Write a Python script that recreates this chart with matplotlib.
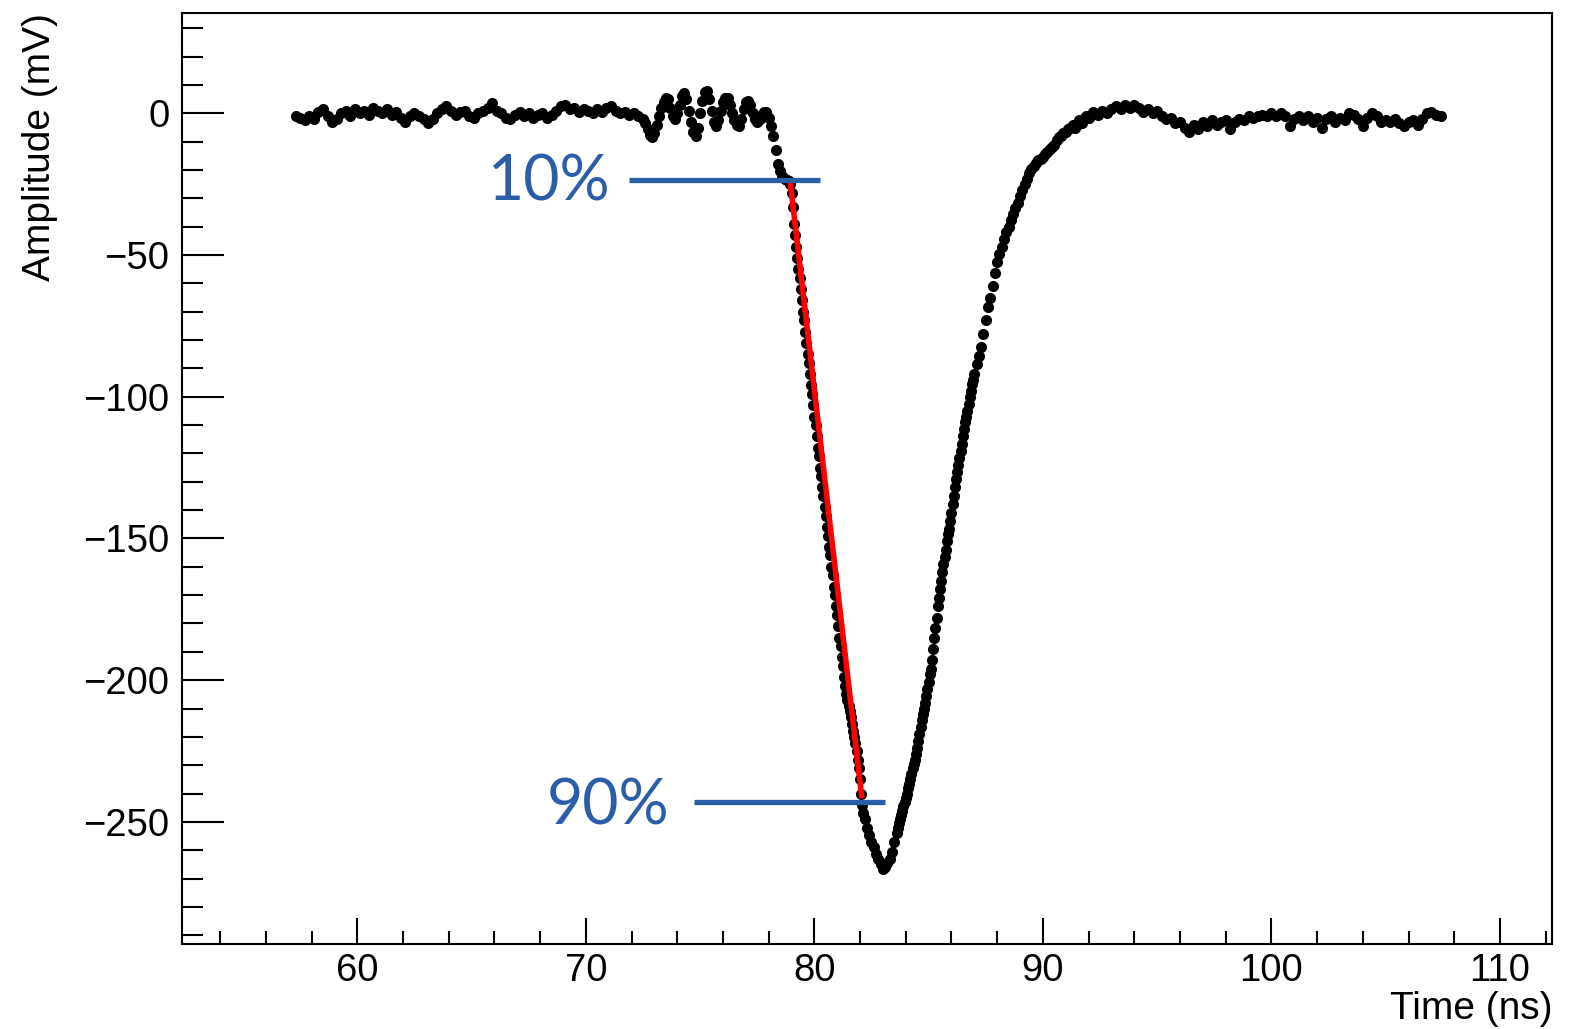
import numpy as np
import matplotlib
matplotlib.use("Agg")
import matplotlib.pyplot as plt
from matplotlib.ticker import MultipleLocator

# ---- waveform samples (time in ns, amplitude in mV) ----
# each segment: start time, sampling step, amplitudes
seg1_t0, seg1_dt = 57.3, 0.2
seg1_v = [-1, -1.5, -2.5, -1, -2, 0.5, 1.5, -1, -3, -2,
          0, 1, -1, 1.5, 0, 1, -0.5, 2, 1, 0,
          1.5, -0.5, 0.5, -1.5, -3, -1, 0, -1, -2, -3.5,
          -2, 0, 1.5, 2.5, 1, -0.5, 0.5, 1, -1, -1.5,
          0, 1, 2, 3.5, 1, 0, -1.5, -2, -0.5, 0.5,
          -1, 0, -1.5, -0.5, 0, -1.5, -0.5, 1, 2.5, 3,
          1.5, 2, 0.5, 1.5, 1, 0, 1.5, 0.5, 2, 2.5,
          1, 0, 0.5, -0.5, 0, -1]

seg1b_t0, seg1b_dt = 72.5, 0.1
seg1b_v = [-2, -3.5, -5.5, -7.5, -8.5, -7, -4, -1, 2, 4,
           5.5, 5, 2, -1, -2, 0, 3, 6, 7.3, 5,
           1, -3, -6.5, -8, -5, 0, 4.5, 7.5, 8, 5,
           1, -3, -4.5, -2.5, 1, 4, 5.5, 5.5, 3, 0,
           -2.5, -4, -4.5, -2, 1.5, 4, 4.5, 3, 0, -2,
           -3]

seg2_t0, seg2_dt = 77.6, 0.1
seg2_v = [-2, -0.5, 0.5, 0.5, -1.5, -4.5, -8, -13, -18, -20.5,
          -22, -23, -23.5, -24]

seg3_t0, seg3_dt = 78.95, 0.05
seg3_v = [-25, -28, -33, -39, -43, -47, -51, -55, -58, -62,
          -66, -70, -73, -77, -81, -85, -88, -92, -96, -99,
          -103, -107, -110, -114, -118, -121, -125, -128, -132, -135,
          -139, -142, -146, -149, -153, -156, -160, -163, -167, -170,
          -174, -177, -181, -185, -188, -192, -195, -199, -202, -205,
          -207, -209, -211, -213, -215.5, -218, -220, -222, -225, -228,
          -231, -235, -240, -244, -247, -249]

seg4_t0, seg4_dt = 82.3, 0.1
seg4_v = [-252, -254.5, -257, -259, -261.5, -263, -265, -266.5, -266, -264.5,
          -263, -260.5, -257, -254]

seg5_t0, seg5_dt = 83.65, 0.05
seg5_v = [-252, -250.5, -249, -247.5, -246, -244.5, -243, -241.5, -240, -238,
          -236.5, -235, -233, -231, -229.5, -228, -226, -224, -221.5, -219,
          -216.5, -214, -212, -210, -208, -205.5, -203, -200.5, -198, -196,
          -193, -189, -185, -181.5, -178, -174, -171, -168, -165, -162,
          -159, -156.5, -154, -151, -148.5, -146.5, -144, -141, -138, -135,
          -132, -129, -126.5, -124, -121.5, -119, -116.5, -114, -111.5, -109,
          -107, -105, -102.5, -100, -98, -95.5, -94, -92]

seg6_t0, seg6_dt = 87.1, 0.1
seg6_v = [-88.5, -85.5, -82.5, -78, -73, -68.5, -65, -61, -56.5, -52.5,
          -49.5, -47, -44.5, -42, -40, -37.5, -35.5, -33.5, -31.5, -29,
          -27, -25, -23, -21, -19.5, -18.5, -17.5, -16.5, -16, -15.5,
          -14.5, -13.5, -12.5, -12, -11, -9.5, -8.5, -8, -7, -6.5,
          -5.5, -5, -4, -5, -4, -2.5, -3.5, -2, -1, -1.5]

seg7_t0, seg7_dt = 92.2, 0.2
seg7_v = [0.5, -0.5, 1, 0, 1.5, 2.5, 1.5, 3, 2, 3,
          2, 0.5, 1.5, 0, 1, -1, -2, -1.5, -3.5, -3,
          -5, -6.5, -4, -5.5, -3, -4.5, -2.5, -4, -3, -2.5,
          -5.5, -3, -2, -2.5, -1, -1.5, -1, -0.5, -1, 0,
          -1, 0, -1, -4.5, -2, -1, -2.5, -1, -3, -1.5,
          -5, -2, -1, -3, -1.5, -2.5, 0, -0.5, -2, -4.5,
          -1.5, 0, -1, -3, -2.5, -3, -2, -3.5, -4.5, -3,
          -2.5, -4, -2, 0, 0.5, -0.5, -1]

segments = [(seg1_t0, seg1_dt, seg1_v), (seg1b_t0, seg1b_dt, seg1b_v),
            (seg2_t0, seg2_dt, seg2_v), (seg3_t0, seg3_dt, seg3_v),
            (seg4_t0, seg4_dt, seg4_v), (seg5_t0, seg5_dt, seg5_v),
            (seg6_t0, seg6_dt, seg6_v), (seg7_t0, seg7_dt, seg7_v)]

# rise-time fit line (10% -> 90%)
fit_t = [78.94, 82.08]
fit_v = [-24.1, -241.7]

# 10% / 90% level markers
lvl10_t = [71.88, 80.24]
lvl10_v = -23.6
lvl90_t = [74.74, 83.1]
lvl90_v = -242.9
lbl10 = ("10%", 71.1, -30.9)
lbl90 = ("90%", 73.65, -251.1)

x_range = (52.33, 112.29)
y_range = (-293.2, 35.3)

blue = "#2c5ea8"

# ---- figure ----
fig = plt.figure(figsize=(15.77, 10.29), dpi=100)
ax = fig.add_axes([182 / 1577, 1 - 944.3 / 1029, (1552.3 - 182) / 1577, (944.3 - 13.3) / 1029])

t_all, v_all = [], []
for t0, dt, vals in segments:
    t_all.append(t0 + dt * np.arange(len(vals)))
    v_all.append(np.asarray(vals, dtype=float))
t_all = np.concatenate(t_all)
v_all = np.concatenate(v_all)

ax.plot(t_all, v_all, "o", color="black", ms=8.0, mew=0, zorder=2)
ax.plot(fit_t, fit_v, color="#ff0000", lw=4.0, solid_capstyle="butt", zorder=3)
ax.plot(lvl10_t, [lvl10_v, lvl10_v], color=blue, lw=3.8, solid_capstyle="butt", zorder=4)
ax.plot(lvl90_t, [lvl90_v, lvl90_v], color=blue, lw=3.8, solid_capstyle="butt", zorder=4)
for txt, tx, ty in (lbl10, lbl90):
    ax.text(tx, ty, txt, color=blue, fontsize=45, family="Lato",
            ha="right", va="baseline", zorder=5)

ax.set_xlim(*x_range)
ax.set_ylim(*y_range)

ax.xaxis.set_major_locator(MultipleLocator(10))
ax.xaxis.set_minor_locator(MultipleLocator(2))
ax.yaxis.set_major_locator(MultipleLocator(50))
ax.yaxis.set_minor_locator(MultipleLocator(10))

for s in ax.spines.values():
    s.set_linewidth(1.5)

ax.tick_params(axis="both", which="both", direction="in", width=1.5,
               top=False, right=False, labelsize=27.5)
ax.tick_params(axis="x", which="major", length=18.7, pad=6)
ax.tick_params(axis="x", which="minor", length=9.4)
ax.tick_params(axis="y", which="major", length=30, pad=9)
ax.tick_params(axis="y", which="minor", length=15)
for lab in ax.get_xticklabels() + ax.get_yticklabels():
    lab.set_family("Liberation Sans")

ax.set_xlabel("Time (ns)", fontsize=28, family="Liberation Sans", loc="right")
ax.set_ylabel("Amplitude (mV)", fontsize=28, family="Liberation Sans", loc="top")
ax.xaxis.set_label_coords(1.0, -0.05)
ax.yaxis.set_label_coords(-0.0905, 1.0)

fig.savefig("out.png", dpi=100)
